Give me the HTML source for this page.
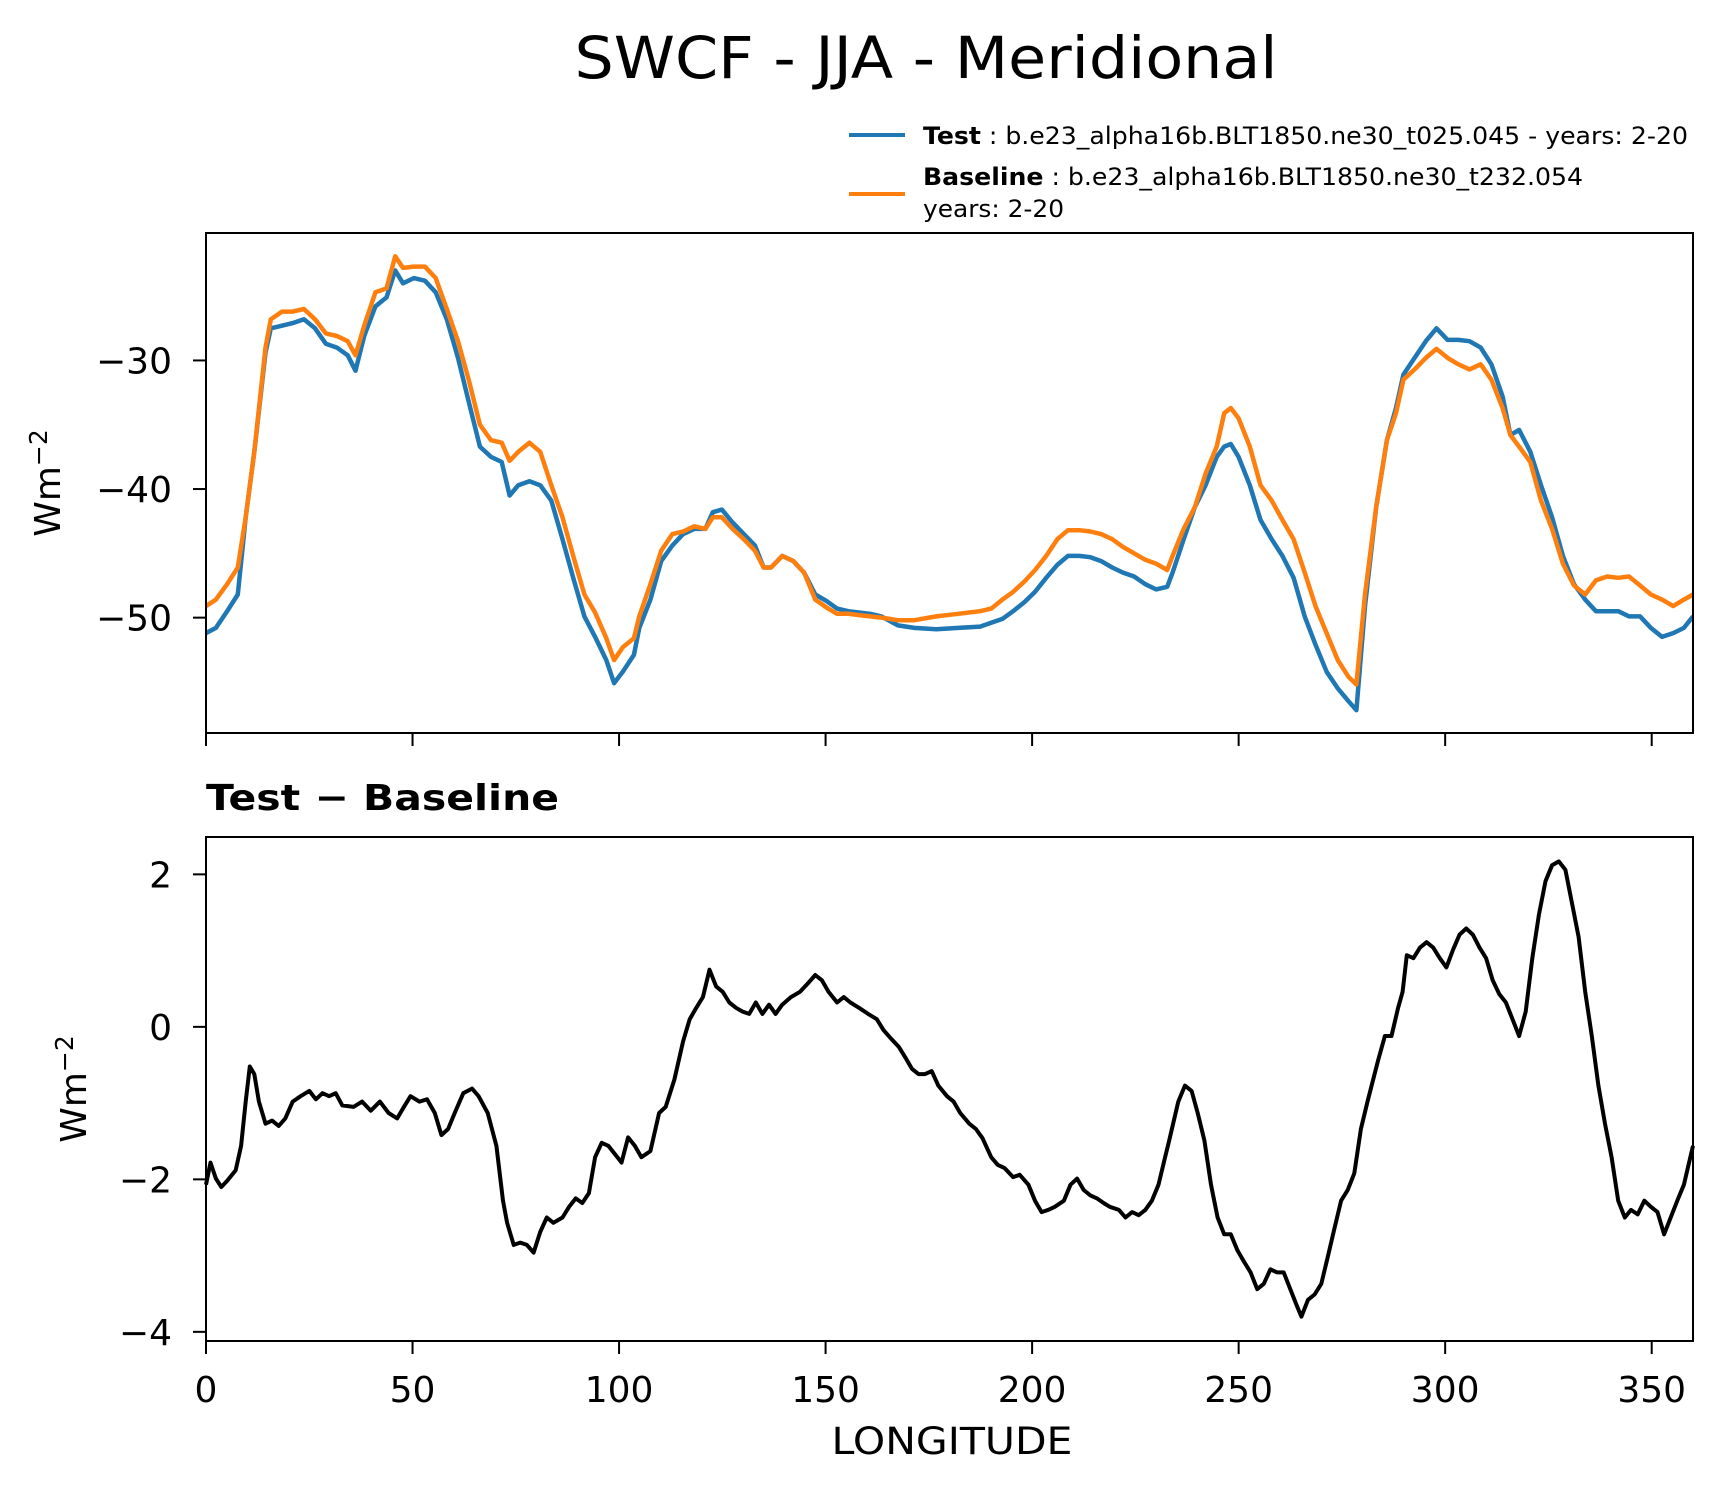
<!DOCTYPE html>
<html><head><meta charset="utf-8"><style>
body{margin:0;background:#fff}
svg text{font-family:"DejaVu Sans","Liberation Sans",sans-serif}
</style></head><body>
<svg id="fig" width="1726" height="1496" viewBox="0 0 1726 1496" xmlns="http://www.w3.org/2000/svg">
<rect width="1726" height="1496" fill="#fff"/>
<text x="926" y="78" font-size="58" text-anchor="middle" textLength="703" lengthAdjust="spacingAndGlyphs">SWCF - JJA - Meridional</text>
<g>
<line x1="849" y1="135" x2="905" y2="135" stroke="#1f77b4" stroke-width="4"/>
<text x="923" y="144" font-size="24" textLength="765" lengthAdjust="spacingAndGlyphs"><tspan font-weight="bold">Test</tspan> : b.e23_alpha16b.BLT1850.ne30_t025.045 - years: 2-20</text>
<line x1="849" y1="194" x2="905" y2="194" stroke="#ff7f0e" stroke-width="4"/>
<text x="923" y="185" font-size="24" textLength="660" lengthAdjust="spacingAndGlyphs"><tspan font-weight="bold">Baseline</tspan> : b.e23_alpha16b.BLT1850.ne30_t232.054</text>
<text x="923" y="217" font-size="24" textLength="141" lengthAdjust="spacingAndGlyphs">years: 2-20</text>
</g>
<g id="top"></g>
<text x="206" y="810" font-size="36" font-weight="bold" textLength="353" lengthAdjust="spacingAndGlyphs">Test − Baseline</text>
<g id="bot"></g>
<text x="952" y="1454" font-size="37" text-anchor="middle" textLength="241" lengthAdjust="spacingAndGlyphs">LONGITUDE</text>
<text transform="translate(60,483) rotate(-90)" font-size="36" text-anchor="middle">Wm<tspan font-size="25" dy="-13">−2</tspan></text>
<text transform="translate(86,1089) rotate(-90)" font-size="36" text-anchor="middle">Wm<tspan font-size="25" dy="-13">−2</tspan></text>
</svg>
<script>
const lonTop=[0,2.4,5.1,7.7,9.6,11.7,14.4,15.7,18.4,21.0,23.7,26.4,29.0,31.7,34.3,36.2,38.3,41.0,43.7,45.8,47.7,50.3,53.0,55.6,58.3,61.0,63.6,66.3,69.0,71.6,73.5,75.6,78.3,80.9,83.6,86.3,88.9,91.6,94.2,96.9,98.8,100.9,103.6,104.9,107.6,110.2,112.9,115.5,118.2,120.9,122.7,124.9,127.5,130.2,132.9,135.0,136.8,139.5,142.2,144.8,147.5,150.2,152.8,155.5,158.1,160.8,163.5,167.5,171.5,176.8,182.1,187.4,190.1,192.8,195.4,198.1,200.7,203.4,206.1,208.7,211.4,214.1,216.7,219.4,222.0,224.7,227.4,230.0,232.7,234.0,236.7,239.4,242.0,244.7,246.5,248.1,250.0,252.7,255.3,258.0,260.6,263.3,266.0,268.6,271.3,274.0,276.6,278.5,280.6,283.3,285.9,288.1,289.9,292.6,295.3,297.9,300.6,303.2,305.9,308.6,311.2,313.9,315.8,317.9,320.6,323.2,325.9,328.5,331.2,333.9,336.5,339.2,341.9,344.5,347.2,349.8,352.5,355.2,357.8,360];
const testVals=[-51.2,-50.8,-49.5,-48.2,-42.2,-37.1,-29.4,-27.5,-27.3,-27.1,-26.8,-27.5,-28.7,-29.0,-29.6,-30.8,-28.1,-25.8,-25.1,-23.0,-24.0,-23.6,-23.8,-24.7,-26.8,-29.8,-33.2,-36.7,-37.5,-37.9,-40.5,-39.7,-39.4,-39.7,-40.9,-43.9,-46.9,-49.9,-51.5,-53.3,-55.1,-54.2,-52.9,-50.8,-48.6,-45.6,-44.4,-43.5,-43.1,-43.1,-41.8,-41.6,-42.6,-43.5,-44.4,-46.1,-46.1,-45.2,-45.6,-46.5,-48.2,-48.7,-49.3,-49.5,-49.6,-49.7,-49.9,-50.6,-50.8,-50.9,-50.8,-50.7,-50.4,-50.1,-49.5,-48.8,-48.0,-46.9,-45.9,-45.2,-45.2,-45.3,-45.6,-46.1,-46.5,-46.8,-47.4,-47.8,-47.6,-46.5,-43.9,-41.4,-39.7,-37.5,-36.7,-36.5,-37.5,-39.7,-42.4,-43.9,-45.2,-46.9,-49.9,-52.1,-54.2,-55.5,-56.5,-57.2,-49.1,-41.4,-36.2,-33.7,-31.1,-29.8,-28.5,-27.5,-28.4,-28.4,-28.5,-29.0,-30.3,-32.8,-35.8,-35.4,-37.1,-39.7,-42.2,-45.2,-47.4,-48.6,-49.5,-49.5,-49.5,-49.9,-49.9,-50.8,-51.5,-51.2,-50.8,-49.9];
const baseVals=[-49.1,-48.6,-47.4,-46.1,-42.2,-37.1,-29.0,-26.8,-26.2,-26.2,-26.0,-26.8,-27.9,-28.1,-28.5,-29.6,-27.3,-24.7,-24.4,-21.9,-22.8,-22.7,-22.7,-23.6,-26.0,-28.5,-31.5,-35.0,-36.2,-36.4,-37.8,-37.1,-36.4,-37.1,-39.7,-42.2,-45.2,-48.2,-49.6,-51.6,-53.3,-52.3,-51.6,-49.9,-47.4,-44.8,-43.5,-43.3,-42.9,-43.1,-42.2,-42.2,-43.1,-43.9,-44.8,-46.1,-46.1,-45.2,-45.6,-46.5,-48.6,-49.2,-49.7,-49.7,-49.8,-49.9,-50.0,-50.2,-50.2,-49.9,-49.7,-49.5,-49.3,-48.6,-48.0,-47.2,-46.3,-45.2,-43.9,-43.2,-43.2,-43.3,-43.5,-43.9,-44.5,-45.0,-45.5,-45.8,-46.3,-45.2,-43.1,-41.4,-38.8,-36.7,-34.1,-33.7,-34.5,-36.7,-39.7,-40.9,-42.4,-43.9,-46.5,-49.1,-51.2,-53.3,-54.6,-55.2,-48.2,-41.4,-36.2,-34.1,-31.5,-30.7,-29.8,-29.1,-29.8,-30.3,-30.7,-30.3,-31.5,-33.7,-35.8,-36.7,-37.9,-40.9,-43.1,-45.8,-47.5,-48.2,-47.1,-46.8,-46.9,-46.8,-47.5,-48.2,-48.6,-49.1,-48.6,-48.2];
const lonDiff=[0,1.1,2.4,3.7,5.1,7.2,8.5,9.6,10.6,11.7,12.8,14.4,16.0,17.6,19.2,21.0,22.9,25.0,26.6,28.2,29.8,31.4,33.0,35.7,37.8,39.9,42.1,44.2,46.3,47.9,49.5,51.7,53.5,55.4,57.0,58.6,60.2,62.3,64.4,66.0,68.2,70.3,71.9,72.9,74.5,76.1,77.7,79.3,80.9,82.5,84.1,86.3,87.9,89.5,91.1,92.7,94.2,95.8,97.4,99.6,100.6,102.2,103.8,105.4,107.6,109.7,111.3,113.4,115.5,117.1,118.7,120.3,121.9,123.5,125.1,126.7,128.3,129.9,131.5,133.1,134.7,136.3,137.9,139.5,141.6,143.8,145.9,147.5,149.1,150.7,152.8,154.4,156.0,158.1,160.3,162.4,164.0,165.6,167.7,169.3,170.9,172.5,174.1,175.7,177.3,179.4,181.0,182.6,184.8,186.4,188.0,190.1,191.7,193.3,195.4,197.0,199.1,200.7,202.3,203.9,205.5,207.7,209.3,210.9,212.5,214.1,215.7,217.3,218.8,221.0,222.6,224.2,225.8,227.4,229.0,230.6,232.2,233.2,235.4,237.0,238.6,240.1,241.7,243.3,244.9,246.5,248.1,249.7,251.3,252.9,254.5,256.1,257.7,259.3,260.9,262.5,264.1,265.2,266.8,268.4,270.0,271.6,273.2,274.8,276.4,278.0,279.6,281.2,282.2,283.8,285.4,287.0,288.6,289.7,290.7,292.3,293.9,295.5,297.1,298.7,300.3,301.9,303.5,305.1,306.7,308.3,309.9,311.5,313.1,314.7,316.3,317.9,319.5,321.1,322.7,324.3,325.9,327.5,329.1,330.7,332.3,333.9,335.5,337.1,338.7,340.3,341.9,343.5,345.0,346.6,348.2,349.8,351.4,353.0,354.6,356.2,357.8,360];
const diffVals=[-2.07,-1.78,-1.99,-2.10,-2.02,-1.88,-1.56,-0.98,-0.52,-0.62,-0.98,-1.27,-1.23,-1.30,-1.20,-0.98,-0.91,-0.84,-0.95,-0.87,-0.91,-0.87,-1.03,-1.05,-0.98,-1.10,-0.98,-1.13,-1.20,-1.05,-0.91,-0.98,-0.95,-1.13,-1.42,-1.34,-1.13,-0.87,-0.81,-0.91,-1.13,-1.56,-2.28,-2.57,-2.86,-2.83,-2.86,-2.96,-2.69,-2.50,-2.57,-2.50,-2.36,-2.25,-2.31,-2.18,-1.71,-1.52,-1.56,-1.71,-1.78,-1.45,-1.56,-1.71,-1.63,-1.13,-1.05,-0.69,-0.19,0.10,0.25,0.39,0.75,0.53,0.46,0.32,0.25,0.20,0.17,0.32,0.17,0.29,0.17,0.29,0.39,0.46,0.58,0.68,0.61,0.46,0.32,0.39,0.32,0.25,0.17,0.10,-0.04,-0.14,-0.26,-0.40,-0.55,-0.62,-0.62,-0.58,-0.77,-0.91,-0.98,-1.13,-1.27,-1.34,-1.46,-1.71,-1.81,-1.85,-1.97,-1.94,-2.07,-2.28,-2.43,-2.40,-2.36,-2.28,-2.07,-1.99,-2.14,-2.21,-2.25,-2.31,-2.36,-2.40,-2.50,-2.43,-2.47,-2.40,-2.28,-2.07,-1.71,-1.49,-0.98,-0.77,-0.84,-1.13,-1.49,-2.07,-2.50,-2.72,-2.72,-2.93,-3.08,-3.22,-3.44,-3.37,-3.18,-3.22,-3.22,-3.44,-3.66,-3.80,-3.58,-3.51,-3.37,-3.01,-2.64,-2.28,-2.14,-1.92,-1.34,-0.98,-0.77,-0.43,-0.12,-0.12,0.25,0.46,0.94,0.90,1.04,1.11,1.04,0.90,0.78,1.01,1.21,1.29,1.21,1.04,0.90,0.61,0.43,0.32,0.10,-0.12,0.20,0.90,1.47,1.91,2.12,2.17,2.06,1.62,1.18,0.46,-0.12,-0.77,-1.27,-1.71,-2.28,-2.50,-2.40,-2.46,-2.28,-2.36,-2.43,-2.72,-2.50,-2.28,-2.07,-1.56];
const xTicks=[0,50,100,150,200,250,300,350];
const topYTicks=[-30,-40,-50];
const botYTicks=[2,0,-2,-4];

const NS="http://www.w3.org/2000/svg";
const L=206,R=1693;
const xs=v=>L+(v/360)*(R-L);
function mk(tag,attrs,parent){const e=document.createElementNS(NS,tag);for(const k in attrs)e.setAttribute(k,attrs[k]);parent.appendChild(e);return e;}
function panel(g,top,bot,ymin,ymax,yticks,labelX){
  const ys=v=>bot-(v-ymin)/(ymax-ymin)*(bot-top);
  yticks.forEach(t=>{
    const tk=mk('line',{x1:L-13,x2:L,y1:ys(t),y2:ys(t),stroke:'#000','stroke-width':2},g);
    
    
    const tx=mk('text',{x:172,y:ys(t)+13,'font-size':36,'text-anchor':'end'},g);
    tx.textContent=(t<0?'−':'')+Math.abs(t);
    
    
  });
  xTicks.forEach(t=>{
    const tk=mk('line',{x1:xs(t),x2:xs(t),y1:bot,y2:bot+13,stroke:'#000','stroke-width':2},g);
    
    
    if(labelX){
      const tx=mk('text',{x:xs(t),y:bot+61,'font-size':36,'text-anchor':'middle'},g);
      tx.textContent=t;
      
      
    }
  });
  return ys;
}
function line(g,lons,vals,ys,color,name,w){
  const d=lons.map((l,i)=>(i?'L':'M')+xs(l).toFixed(1)+' '+ys(vals[i]).toFixed(1)).join(' ');
  const p=mk('path',{d:d,fill:'none',stroke:color,'stroke-width':w,'stroke-linejoin':'round'},g);
  
  
}
const gt=document.getElementById('top');
const ysT=panel(gt,233,733,-58.97,-20.09,topYTicks,false);
const clipT=mk('clipPath',{id:'ct'},gt);mk('rect',{x:L,y:233,width:R-L,height:500},clipT);
const gtl=mk('g',{'clip-path':'url(#ct)'},gt);
line(gtl,lonTop,testVals,ysT,'#1f77b4','test-series-line',4.5);
line(gtl,lonTop,baseVals,ysT,'#ff7f0e','baseline-series-line',4.5);
const fT=mk('rect',{x:L,y:233,width:R-L,height:500,fill:'none',stroke:'#000','stroke-width':2},gt);



const gb=document.getElementById('bot');
const ysB=panel(gb,837,1341,-4.12,2.49,botYTicks,true);
line(gb,lonDiff,diffVals,ysB,'#000','difference-series-line',4);
const fB=mk('rect',{x:L,y:837,width:R-L,height:504,fill:'none',stroke:'#000','stroke-width':2},gb);


</script>
</body></html>
